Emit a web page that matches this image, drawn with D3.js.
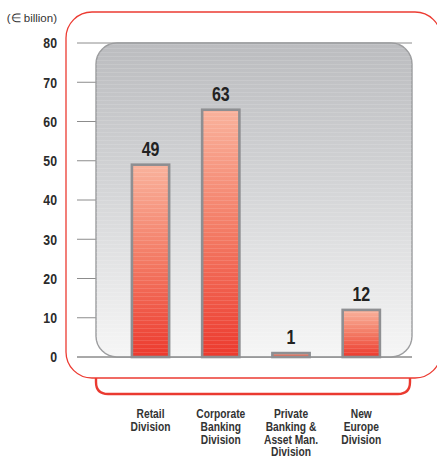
<!DOCTYPE html>
<html>
<head>
<meta charset="utf-8">
<script src="https://cdn.jsdelivr.net/npm/d3@7"></script>
<style>
  html, body { margin: 0; padding: 0; background: #fff; }
  svg { display: block; }
  text { font-family: "Liberation Sans", Arial, sans-serif; }
</style>
</head>
<body>
<svg id="chart" width="437" height="459"></svg>
<script>
// Loans by division, € billion
const categories = ["Retail Division", "Corporate Banking Division", "Private Banking & Asset Man. Division", "New Europe Division"];
const categoryLines = [
  ["Retail", "Division"],
  ["Corporate", "Banking", "Division"],
  ["Private", "Banking &", "Asset Man.", "Division"],
  ["New", "Europe", "Division"]
];
const values = [49, 63, 1, 12];
const yTicks = [0, 10, 20, 30, 40, 50, 60, 70, 80];
const unitLabel = "(\u2208 billion)";

const NARROW = 0.82; // horizontal squeeze for a condensed look

const svg = d3.select("#chart");
const defs = svg.append("defs");

// y scale and band scale for divisions
const y = d3.scaleLinear().domain([0, 80]).range([357, 43]);
const x = d3.scaleBand().domain(categories).range([115.4, 396.4])
  .paddingInner(0.47).paddingOuter(0.235);

// gradients
const panelGrad = defs.append("linearGradient").attr("id", "panelGrad")
  .attr("x1", 0).attr("y1", 0).attr("x2", 0).attr("y2", 1);
panelGrad.append("stop").attr("offset", "0%").attr("stop-color", "#bbbcbf");
panelGrad.append("stop").attr("offset", "45%").attr("stop-color", "#d3d4d6");
panelGrad.append("stop").attr("offset", "100%").attr("stop-color", "#f6f6f6");

const barGrad = defs.append("linearGradient").attr("id", "barGrad")
  .attr("x1", 0).attr("y1", 0).attr("x2", 0).attr("y2", 1);
barGrad.append("stop").attr("offset", "0%").attr("stop-color", "#f9b29c");
barGrad.append("stop").attr("offset", "50%").attr("stop-color", "#f37a64");
barGrad.append("stop").attr("offset", "100%").attr("stop-color", "#ec3a2e");

// faint horizontal streaks over fills
const streak = defs.append("pattern").attr("id", "streak")
  .attr("patternUnits", "userSpaceOnUse").attr("width", 8).attr("height", 4);
streak.append("rect").attr("x", 0).attr("y", 0).attr("width", 8).attr("height", 1)
  .attr("fill", "#ffffff").attr("opacity", 0.12);

// condensed text helper
function squeezed(sel, px, py) {
  return sel.attr("transform", (d, i) => `translate(${px(d, i)},${py(d, i)}) scale(${NARROW},1)`);
}

// outer red frame
svg.append("rect")
  .attr("x", 66).attr("y", 12).attr("width", 375).attr("height", 366)
  .attr("rx", 26).attr("ry", 26)
  .attr("fill", "none").attr("stroke", "#ec3b32").attr("stroke-width", 1.3);

// bracket beneath the frame
const bx0 = 96, bx1 = 410, by0 = 378, by1 = 394, br = 12;
svg.append("path")
  .attr("d", `M${bx0},${by0} V${by1 - br} Q${bx0},${by1} ${bx0 + br},${by1} H${bx1 - br} Q${bx1},${by1} ${bx1},${by1 - br} V${by0}`)
  .attr("fill", "none").attr("stroke", "#ea3a30").attr("stroke-width", 2.4);

// tick lines
svg.append("g").selectAll("line").data(yTicks).join("line")
  .attr("x1", 77).attr("x2", 412)
  .attr("y1", d => y(d)).attr("y2", d => y(d))
  .attr("stroke", "#8c8c8c").attr("stroke-width", 1);

// rounded plot panel
const panel = { x0: 96, x1: 412, y0: y(80), y1: y(0) };
svg.append("rect")
  .attr("x", panel.x0).attr("y", panel.y0)
  .attr("width", panel.x1 - panel.x0).attr("height", panel.y1 - panel.y0)
  .attr("rx", 21).attr("ry", 21)
  .attr("fill", "url(#panelGrad)").attr("stroke", "#9b9c9e").attr("stroke-width", 1.4);
svg.append("rect")
  .attr("x", panel.x0).attr("y", panel.y0)
  .attr("width", panel.x1 - panel.x0).attr("height", panel.y1 - panel.y0)
  .attr("rx", 21).attr("ry", 21)
  .attr("fill", "url(#streak)");

// baseline
svg.append("line")
  .attr("x1", 77).attr("x2", 412).attr("y1", y(0)).attr("y2", y(0))
  .attr("stroke", "#8c8c8c").attr("stroke-width", 1);

// y tick labels
squeezed(svg.append("g").selectAll("text").data(yTicks).join("text"),
    () => 57, d => y(d))
  .attr("dy", "0.36em")
  .attr("text-anchor", "end")
  .attr("font-size", 15).attr("font-weight", "bold").attr("fill", "#2b2b2b")
  .text(d => d);

svg.append("text")
  .attr("x", 57).attr("y", 22)
  .attr("text-anchor", "end")
  .attr("font-size", 11.5).attr("fill", "#333")
  .text(unitLabel);

// bars
const bars = svg.append("g");
bars.selectAll("rect.bar").data(values).join("rect")
  .attr("class", "bar")
  .attr("x", (d, i) => x(categories[i]))
  .attr("y", d => y(d))
  .attr("width", x.bandwidth())
  .attr("height", d => y(0) - y(d))
  .attr("fill", "url(#barGrad)")
  .attr("stroke", "#8e8f92").attr("stroke-width", 2.6);
bars.selectAll("rect.streak").data(values).join("rect")
  .attr("class", "streak")
  .attr("x", (d, i) => x(categories[i]) + 1.3)
  .attr("y", d => y(d) + 1.3)
  .attr("width", x.bandwidth() - 2.6)
  .attr("height", d => Math.max(0, y(0) - y(d) - 2.6))
  .attr("fill", "url(#streak)");

// value labels
squeezed(svg.append("g").selectAll("text").data(values).join("text"),
    (d, i) => x(categories[i]) + x.bandwidth() / 2, d => y(d) - 9)
  .attr("text-anchor", "middle")
  .attr("font-size", 19.5).attr("font-weight", "bold").attr("fill", "#222")
  .text(d => d);

// category labels
const catG = svg.append("g").selectAll("text").data(categoryLines).join("text")
  .attr("transform", (lines, i) => `translate(${x(categories[i]) + x.bandwidth() / 2},0) scale(${NARROW},1)`)
  .attr("text-anchor", "middle")
  .attr("font-size", 12.5).attr("font-weight", "bold").attr("fill", "#333");
catG.each(function(lines) {
  d3.select(this).selectAll("tspan").data(lines).join("tspan")
    .attr("x", 0).attr("y", (l, j) => 418 + j * 12.8)
    .text(l => l);
});
</script>
</body>
</html>
